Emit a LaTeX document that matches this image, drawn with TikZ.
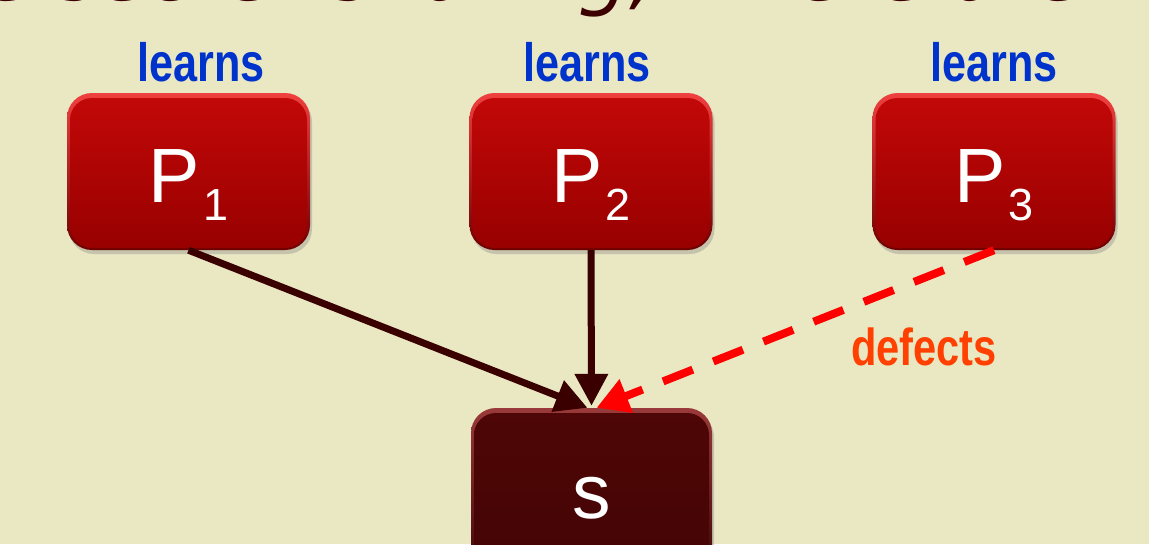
\documentclass[tikz,border=0pt]{standalone}
\usepackage{fontspec}
\setmainfont{Liberation Sans}
\newfontfamily\narrowb[FakeStretch=0.8]{Liberation Sans Bold}
\newfontfamily\topfont{DejaVu Sans}
\usetikzlibrary{arrows.meta,shadows,calc}
\definecolor{bg}{HTML}{EAE7C3}
\definecolor{ptop}{HTML}{C20808}
\definecolor{pbot}{HTML}{980000}
\definecolor{prtop}{HTML}{F04040}
\definecolor{prbot}{HTML}{6E0000}
\definecolor{stop}{HTML}{4E0606}
\definecolor{sbot}{HTML}{440404}
\definecolor{srtop}{HTML}{9A3A3A}
\definecolor{srbot}{HTML}{3A0202}
\definecolor{dk}{HTML}{3A0000}
\definecolor{lblue}{HTML}{0033CC}
\definecolor{dorange}{HTML}{FF4000}
\definecolor{dred}{HTML}{FF0000}
\definecolor{ttl}{HTML}{3C0000}
\tikzset{
  prim/.style={rectangle, rounded corners=25pt, minimum width=243pt, minimum height=157pt,
    top color=prtop, bottom color=prbot, draw=none,
    drop shadow={opacity=0.35, shadow xshift=2pt, shadow yshift=-4pt}},
  pbox/.style={rectangle, rounded corners=22pt, minimum width=237pt, minimum height=150pt,
    top color=ptop, bottom color=pbot, draw=none},
  srim/.style={rectangle, rounded corners=25pt, minimum width=241pt, minimum height=176pt,
    top color=srtop, bottom color=srbot, draw=none,
    drop shadow={opacity=0.35, shadow xshift=2pt, shadow yshift=-4pt}},
  sbox/.style={rectangle, rounded corners=22pt, minimum width=235pt, minimum height=169pt,
    top color=stop, bottom color=sbot, draw=none},
  plabel/.style={text=white, font=\fontsize{77}{77}\selectfont, inner sep=0pt},
  learnlbl/.style={text=lblue, font=\narrowb\fontsize{54}{54}\selectfont, inner sep=0pt},
  deflbl/.style={text=dorange, font=\narrowb\fontsize{52}{52}\selectfont, inner sep=0pt},
  conn/.style={line width=7pt, draw=dk, -{Triangle[length=32pt,width=32pt]}},
  defconn/.style={line width=8pt, draw=dred, dash pattern=on 32pt off 22pt,
    -{Triangle[length=32pt,width=34pt]}},
  toptext/.style={text=ttl, font=\topfont\itshape\fontsize{80}{80}\selectfont, inner sep=0pt}
}
\newcommand{\psub}[1]{P\kern3pt\raisebox{-18pt}{\fontsize{45}{45}\selectfont #1}}
\begin{document}
\begin{tikzpicture}[x=1pt,y=-1pt]
\useasboundingbox (0,0) rectangle (1149,544);
\fill[bg] (0,0) rectangle (1149,544);
\begin{scope}
\clip (0,0) rectangle (1149,544);
\node[toptext, anchor=base west] (title) at (-50,0) {re secret sharing, where are};

\node[prim] (p1r) at (188.5,171.5) {};
\node[prim] (p2r) at (591,171.5) {};
\node[prim] (p3r) at (994,171.5) {};
\node[srim] (sr) at (591.5,496) {};
\node[pbox] (p1) at ($(p1r.center)+(0,1.5)$) {};
\node[pbox] (p2) at ($(p2r.center)+(0,1.5)$) {};
\node[pbox] (p3) at ($(p3r.center)+(0,1.5)$) {};
\node[sbox] (s) at ($(sr.center)+(0,1.5)$) {};

\node[plabel, anchor=base] (p1t) at ($(p1r.center)+(0,30.5)$) {\psub{1}};
\node[plabel, anchor=base] (p2t) at ($(p2r.center)+(0,30.5)$) {\psub{2}};
\node[plabel, anchor=base] (p3t) at ($(p3r.center)+(0,30.5)$) {\psub{3}};
\node[plabel, anchor=base] (st) at ($(sr.center)+(0,22)$) {s};

\node[learnlbl] (l1) at (201,62) {learns};
\node[learnlbl] (l2) at (587,62) {learns};
\node[learnlbl] (l3) at (994,62) {learns};
\node[deflbl] (def) at (924,347) {defects};

\draw[conn] (p1r.south) -- ($(sr.north)+(-4,0)$);
\draw[conn] (p2r.south) -- ($(sr.north)+(0,-2)$);
\draw[defconn] (p3r.south) -- ($(sr.north)+(5,0)$);
\end{scope}
\end{tikzpicture}
\end{document}
